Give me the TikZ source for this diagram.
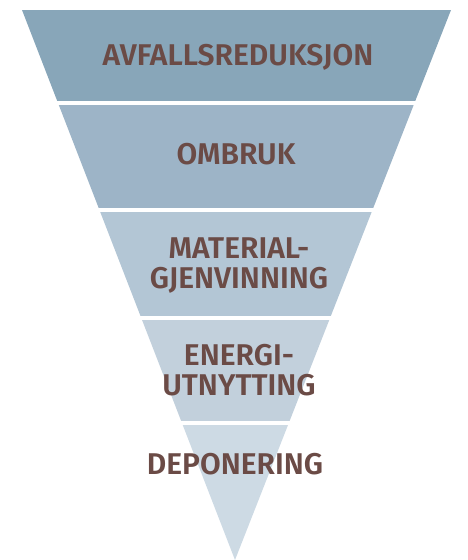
\documentclass[tikz,border=0pt]{standalone}
\usepackage{fontspec}
\setmainfont{Fira Sans}[BoldFont={Fira Sans SemiBold}]
\definecolor{bandA}{RGB}{136,166,185}
\definecolor{bandB}{RGB}{157,180,199}
\definecolor{bandC}{RGB}{179,198,213}
\definecolor{bandD}{RGB}{194,208,220}
\definecolor{bandE}{RGB}{205,218,228}
\definecolor{txt}{RGB}{107,75,70}
\tikzset{
  lbl/.style={text=txt, font=\bfseries\fontsize{30}{30}\selectfont, inner sep=0pt, align=center}
}
\begin{document}
\begin{tikzpicture}[x=1pt,y=-1pt]
\useasboundingbox (0,0) rectangle (467,560);
\coordinate (TL) at (22,10);
\coordinate (TR) at (451,10);
\coordinate (AP) at (235,560);
\begin{scope}
\clip (TL) -- (TR) -- (AP) -- cycle;
\fill[bandA] (0,10) rectangle (467,101);
\fill[bandB] (0,105) rectangle (467,208);
\fill[bandC] (0,212) rectangle (467,316);
\fill[bandD] (0,320) rectangle (467,421);
\fill[bandE] (0,425) rectangle (467,560);
\end{scope}
\node[lbl, anchor=base] (l1) at (238,65) {AVFALLSREDUKSJON};
\node[lbl, anchor=base] (l2) at (236,164) {OMBRUK};
\node[lbl] (l3) at (239,265.5) {MATERIAL-\\GJENVINNING};
\node[lbl] (l4) at (239,370.5) {ENERGI-\\UTNYTTING};
\node[lbl, anchor=base] (l5) at (235,474) {DEPONERING};
\end{tikzpicture}
\end{document}
